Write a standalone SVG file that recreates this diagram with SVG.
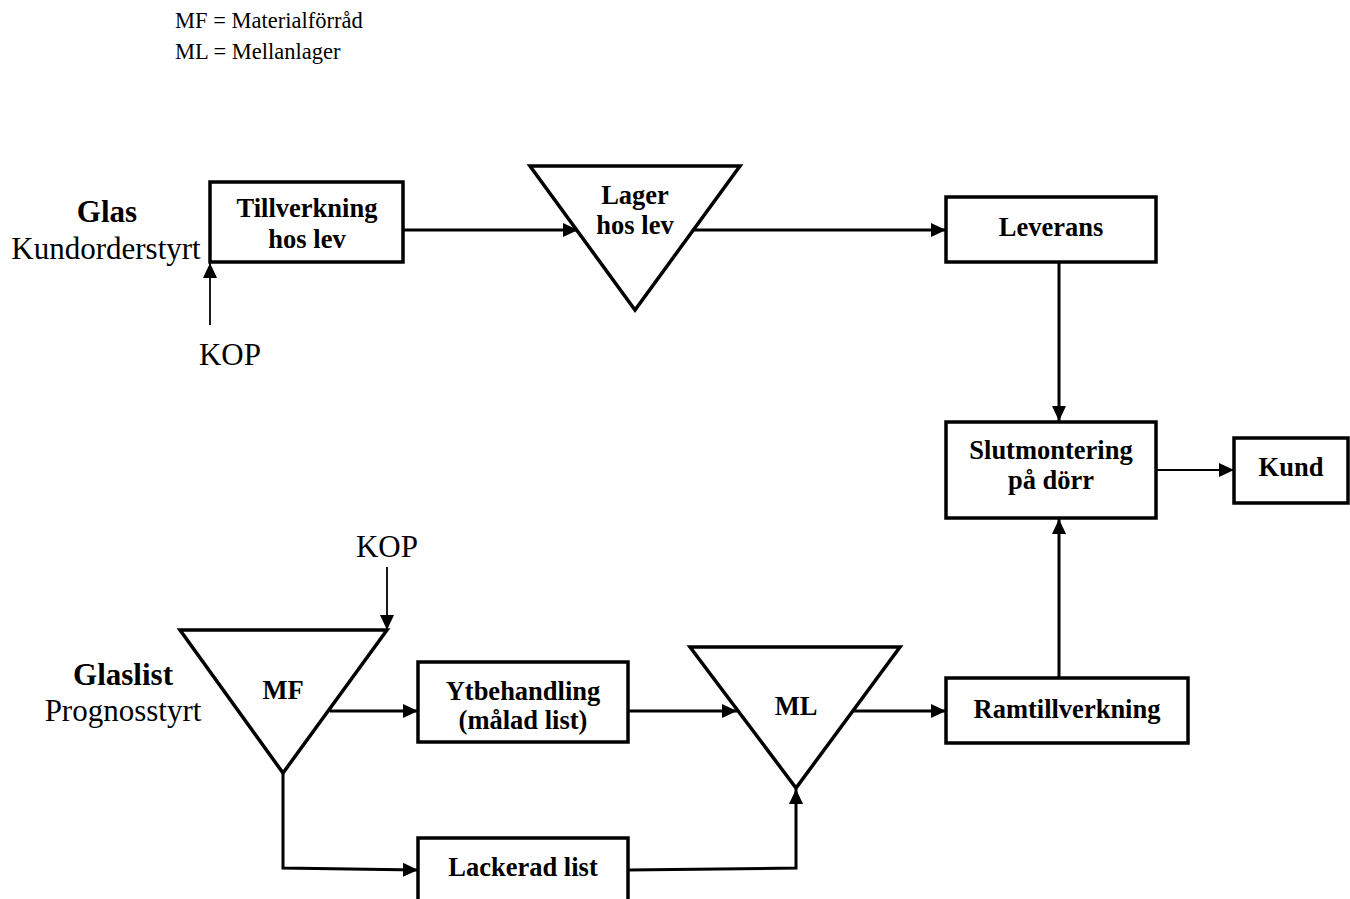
<svg xmlns="http://www.w3.org/2000/svg" width="1350" height="899" viewBox="0 0 1350 899">
<style>
text{font-family:"Liberation Serif","Times New Roman",serif;fill:#000}
.lbl{font-size:26.5px;font-weight:bold;text-anchor:middle}
.big{font-size:31px;text-anchor:middle}
.bigb{font-size:31px;font-weight:bold;text-anchor:middle}
.leg{font-size:22.5px}
.box{fill:#fff;stroke:#000;stroke-width:3.5}
.tri{fill:#fff;stroke:#000;stroke-width:3.5;stroke-linejoin:miter}
.con{fill:none;stroke:#000;stroke-width:3}
.thin{fill:none;stroke:#000;stroke-width:1.8}
</style>
<defs>
<marker id="ah" markerUnits="userSpaceOnUse" markerWidth="16" markerHeight="14" refX="15" refY="7" orient="auto">
<path d="M0,0 L15,7 L0,14 Z" fill="#000"/>
</marker>
</defs>
<rect width="1350" height="899" fill="#fff"/>
<g id="legend">
<text class="leg" x="175" y="28">MF = Materialförråd</text>
<text class="leg" x="175" y="59">ML = Mellanlager</text>
</g>
<g id="glas-label">
<text class="bigb" x="107" y="222">Glas</text>
<text class="big" x="106" y="259">Kundorderstyrt</text>
</g>
<g id="kop-top"><text class="big" x="230" y="365">KOP</text></g>
<g id="glaslist-label">
<text class="bigb" x="123" y="685">Glaslist</text>
<text class="big" x="123" y="721">Prognosstyrt</text>
</g>
<g id="kop-bottom"><text class="big" x="387" y="557">KOP</text></g>
<g id="connectors">
<line class="thin" x1="210" y1="325" x2="210" y2="263" marker-end="url(#ah)"/>
<line class="con" x1="403" y1="230" x2="578" y2="230" marker-end="url(#ah)"/>
<line class="con" x1="692" y1="230" x2="946" y2="230" marker-end="url(#ah)"/>
<line class="con" x1="1059" y1="262" x2="1059" y2="421" marker-end="url(#ah)"/>
<line class="thin" x1="1156" y1="470" x2="1234" y2="470" marker-end="url(#ah)"/>
<line class="thin" x1="387" y1="567" x2="387" y2="630" marker-end="url(#ah)"/>
<line class="con" x1="330" y1="711" x2="418" y2="711" marker-end="url(#ah)"/>
<polyline class="con" points="283,773 283,868 418,870" marker-end="url(#ah)"/>
<line class="con" x1="628" y1="711" x2="737" y2="711" marker-end="url(#ah)"/>
<line class="con" x1="852" y1="711" x2="946" y2="711" marker-end="url(#ah)"/>
<polyline class="con" points="628,870 796,868 796,789" marker-end="url(#ah)"/>
<line class="con" x1="1059" y1="678" x2="1059" y2="519" marker-end="url(#ah)"/>
</g>
<g id="tillverkning">
<rect class="box" x="210" y="182" width="193" height="80"/>
<text class="lbl" x="307" y="217">Tillverkning</text>
<text class="lbl" x="307" y="248">hos lev</text>
</g>
<g id="lager">
<polygon class="tri" points="530,166 740,166 635,310"/>
<text class="lbl" x="635" y="204">Lager</text>
<text class="lbl" x="635" y="234">hos lev</text>
</g>
<g id="leverans">
<rect class="box" x="946" y="197" width="210" height="65"/>
<text class="lbl" x="1051" y="236">Leverans</text>
</g>
<g id="slutmontering">
<rect class="box" x="946" y="422" width="210" height="96"/>
<text class="lbl" x="1051" y="459">Slutmontering</text>
<text class="lbl" x="1051" y="489">på dörr</text>
</g>
<g id="kund">
<rect class="box" x="1234" y="438" width="114" height="65"/>
<text class="lbl" x="1291" y="476">Kund</text>
</g>
<g id="mf">
<polygon class="tri" points="180,630 387,630 283,773"/>
<text class="lbl" x="283" y="699">MF</text>
</g>
<g id="ytbehandling">
<rect class="box" x="418" y="662" width="210" height="80"/>
<text class="lbl" x="523" y="700">Ytbehandling</text>
<text class="lbl" x="523" y="729">(målad list)</text>
</g>
<g id="lackerad">
<rect class="box" x="418" y="838" width="210" height="80"/>
<text class="lbl" x="523" y="876">Lackerad list</text>
</g>
<g id="ml">
<polygon class="tri" points="690,647 900,647 796,788"/>
<text class="lbl" x="796" y="715">ML</text>
</g>
<g id="ramtillverkning">
<rect class="box" x="946" y="678" width="242" height="65"/>
<text class="lbl" x="1067" y="718">Ramtillverkning</text>
</g>
</svg>
